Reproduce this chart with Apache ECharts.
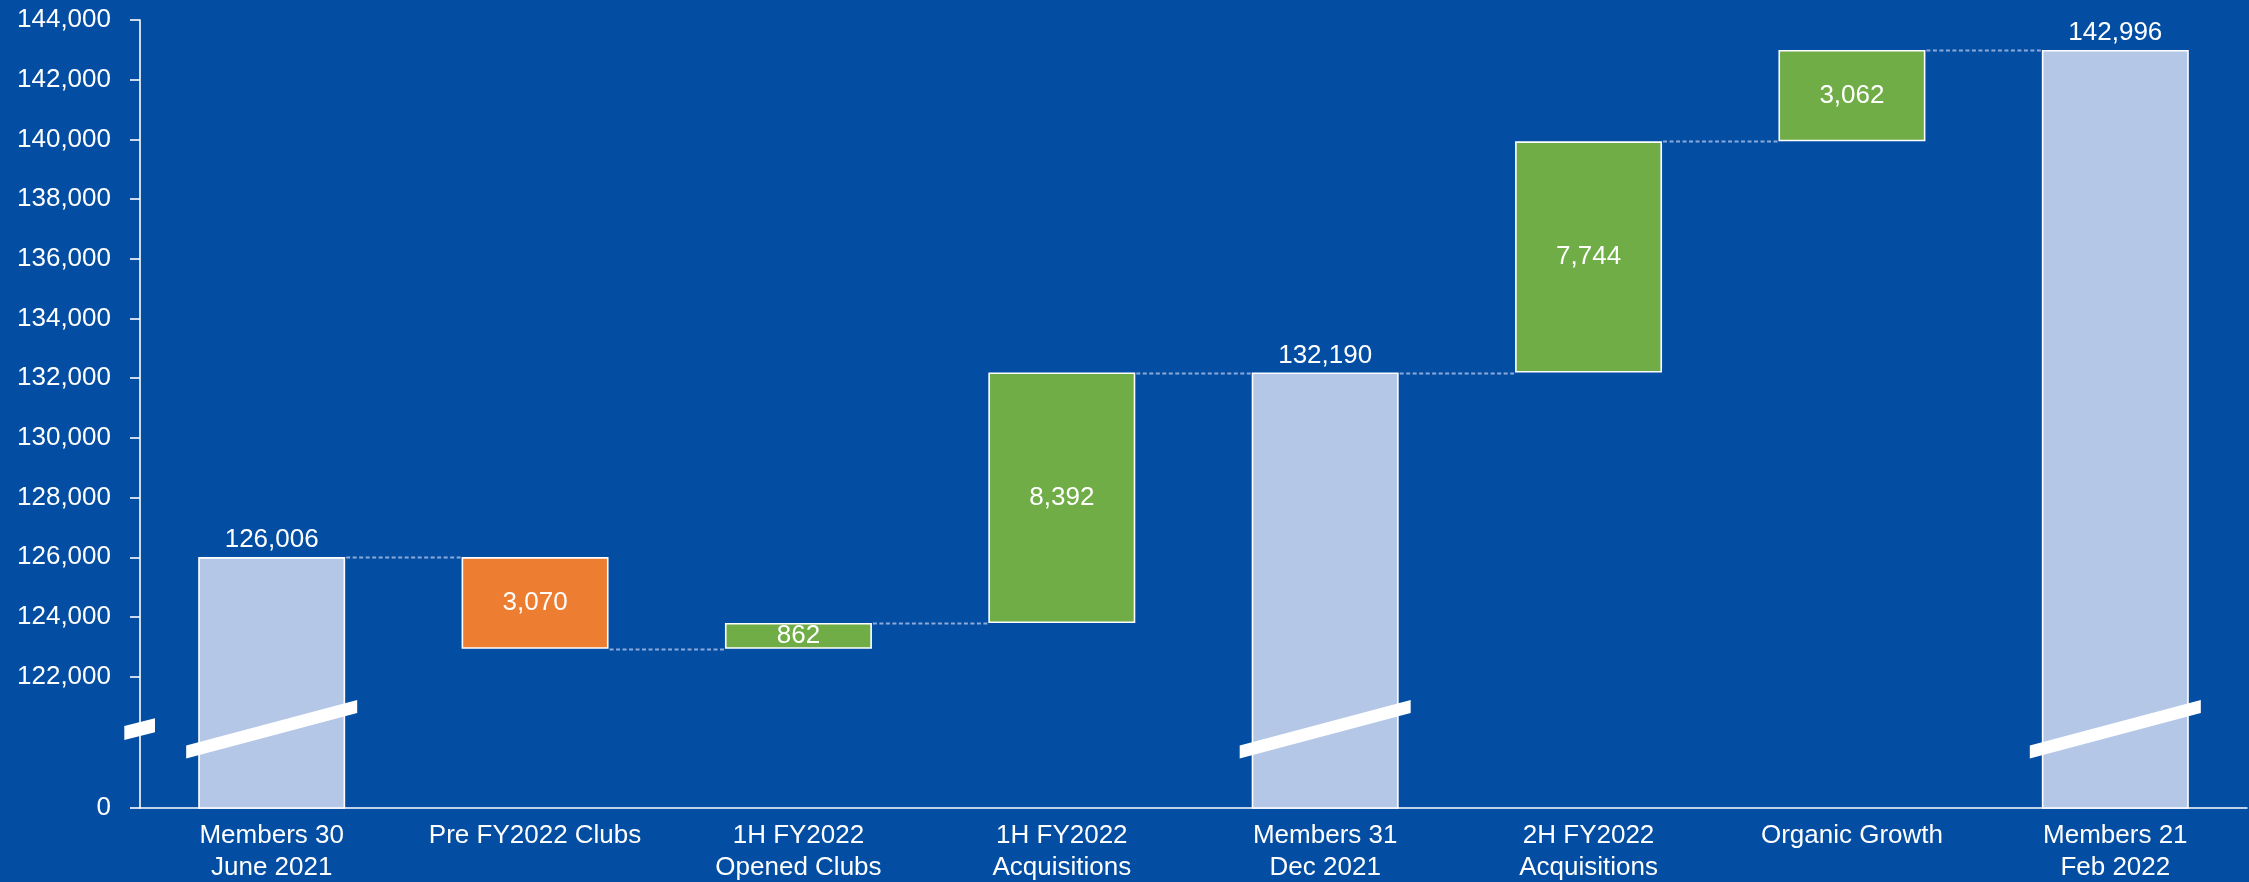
<!DOCTYPE html>
<html>
<head>
<meta charset="utf-8">
<title>Membership bridge</title>
<script src="https://cdn.jsdelivr.net/npm/echarts@6/dist/echarts.min.js"></script>
<style>
  html, body { margin: 0; padding: 0; background: #034EA2; }
  #chart { width: 2249px; height: 882px; }
</style>
</head>
<body>
<div id="chart"></div>
<script>
// Bridge categories and movements (totals are absolute member counts)
const categories = [
  'Members 30\nJune 2021',
  'Pre FY2022 Clubs',
  '1H FY2022\nOpened Clubs',
  '1H FY2022\nAcquisitions',
  'Members 31\nDec 2021',
  '2H FY2022\nAcquisitions',
  'Organic Growth',
  'Members 21\nFeb 2022'
];
const steps   = [126006, -3070, 862, 8392, 132190, 7744, 3062, 142996];
const isTotal = [true, false, false, false, true, false, false, true];

// Value-axis tick labels; the axis is broken below 122,000 and its floor reads 0
const yTickValues = [122000, 124000, 126000, 128000, 130000, 132000, 134000,
                     136000, 138000, 140000, 142000, 144000];
const axisFloor = 117600;
const axisTop = 144000;

const COLORS = { total: '#B4C7E7', up: '#70AD47', down: '#ED7D31' };
const BAR_FRACTION = 0.558;
const FONT = "'Liberation Sans', Arial, sans-serif";

// Waterfall layout: invisible base + visible segment, and the running level after each bar
const baseVals = [];
const barVals = [];
const levels = [];
let level = 0;
steps.forEach((v, i) => {
  if (isTotal[i]) {
    baseVals.push(0);
    barVals.push(v);
    level = v;
  } else if (v < 0) {
    baseVals.push(level + v);
    barVals.push(-v);
    level += v;
  } else {
    baseVals.push(level);
    barVals.push(v);
    level += v;
  }
  levels.push(level);
});

const fmt = n => Number(n).toLocaleString('en-US');

const barData = barVals.map((h, i) => {
  const total = isTotal[i];
  const color = total ? COLORS.total : (steps[i] < 0 ? COLORS.down : COLORS.up);
  return {
    value: h,
    itemStyle: { color: color, borderColor: '#FFFFFF', borderWidth: 1.6 },
    label: {
      show: true,
      position: total ? 'top' : 'inside',
      distance: 4,
      formatter: () => fmt(Math.abs(steps[i])),
      color: '#FFFFFF',
      fontSize: 26,
      fontFamily: FONT
    }
  };
});

// Dashed connectors between consecutive bars
const connectorData = [];
for (let i = 0; i < steps.length - 1; i++) connectorData.push([i, levels[i]]);

// Break marks: one across each total bar, one across the value axis
const breakData = [];
isTotal.forEach((t, i) => { if (t) breakData.push([i, 0]); });
breakData.push([0, 1]);

const chart = echarts.init(document.getElementById('chart'), null, { renderer: 'canvas' });

chart.setOption({
  backgroundColor: '#034EA2',
  animation: false,
  grid: { left: 140, right: 2, top: 20, bottom: 74, containLabel: false, outerBoundsMode: 'none' },
  xAxis: {
    type: 'category',
    data: categories,
    axisLine: { show: true, lineStyle: { color: '#FFFFFF', width: 1.5 } },
    axisTick: { show: false },
    axisLabel: {
      color: '#FFFFFF',
      fontSize: 26,
      fontFamily: FONT,
      lineHeight: 32,
      margin: 12,
      interval: 0
    },
    splitLine: { show: false }
  },
  yAxis: {
    type: 'value',
    min: axisFloor,
    max: axisTop,
    axisLine: { show: true, lineStyle: { color: '#FFFFFF', width: 1.6 } },
    axisTick: {
      show: true,
      length: 10,
      lineStyle: { color: '#FFFFFF', width: 1.6 },
      customValues: [axisFloor].concat(yTickValues)
    },
    axisLabel: {
      color: '#FFFFFF',
      fontSize: 26,
      fontFamily: FONT,
      margin: 29,
      customValues: [axisFloor].concat(yTickValues),
      formatter: v => (v === axisFloor ? '0' : fmt(v))
    },
    splitLine: { show: false }
  },
  series: [
    {
      name: 'base',
      type: 'bar',
      stack: 'bridge',
      barWidth: (BAR_FRACTION * 100) + '%',
      silent: true,
      itemStyle: { color: 'rgba(0,0,0,0)' },
      data: baseVals
    },
    {
      name: 'members',
      type: 'bar',
      stack: 'bridge',
      barWidth: (BAR_FRACTION * 100) + '%',
      data: barData,
      z: 3
    },
    {
      name: 'connectors',
      type: 'custom',
      silent: true,
      z: 4,
      data: connectorData,
      renderItem: (params, api) => {
        const i = api.value(0);
        const lvl = api.value(1);
        const half = api.size([1, 0])[0] * BAR_FRACTION / 2;
        const p0 = api.coord([i, lvl]);
        const p1 = api.coord([i + 1, lvl]);
        const y = Math.round(p0[1]) + 0.5;
        return {
          type: 'line',
          shape: { x1: p0[0] + half + 1, y1: y, x2: p1[0] - half - 1, y2: y },
          style: { stroke: '#8EAADB', lineWidth: 1.8, lineDash: [4, 2.5] }
        };
      }
    },
    {
      name: 'breaks',
      type: 'custom',
      silent: true,
      z: 6,
      data: breakData,
      renderItem: (params, api) => {
        const i = api.value(0);
        const onAxis = api.value(1) === 1;
        const band = api.size([1, 0])[0];
        const c = api.coord([i, axisFloor]);
        let xl, xr, yl, yr, t;
        if (onAxis) {
          const gx = c[0] - band / 2;
          xl = gx - 15.7; xr = gx + 15;
          yl = c[1] - 75; yr = c[1] - 82.7;
          t = 7;
        } else {
          const half = band * BAR_FRACTION / 2 + 12;
          xl = c[0] - half; xr = c[0] + half;
          yl = c[1] - 56; yr = c[1] - 101.5;
          t = 6.6;
        }
        return {
          type: 'polygon',
          shape: { points: [[xl, yl - t], [xr, yr - t], [xr, yr + t], [xl, yl + t]] },
          style: { fill: '#FFFFFF' }
        };
      }
    }
  ]
});
</script>
</body>
</html>
